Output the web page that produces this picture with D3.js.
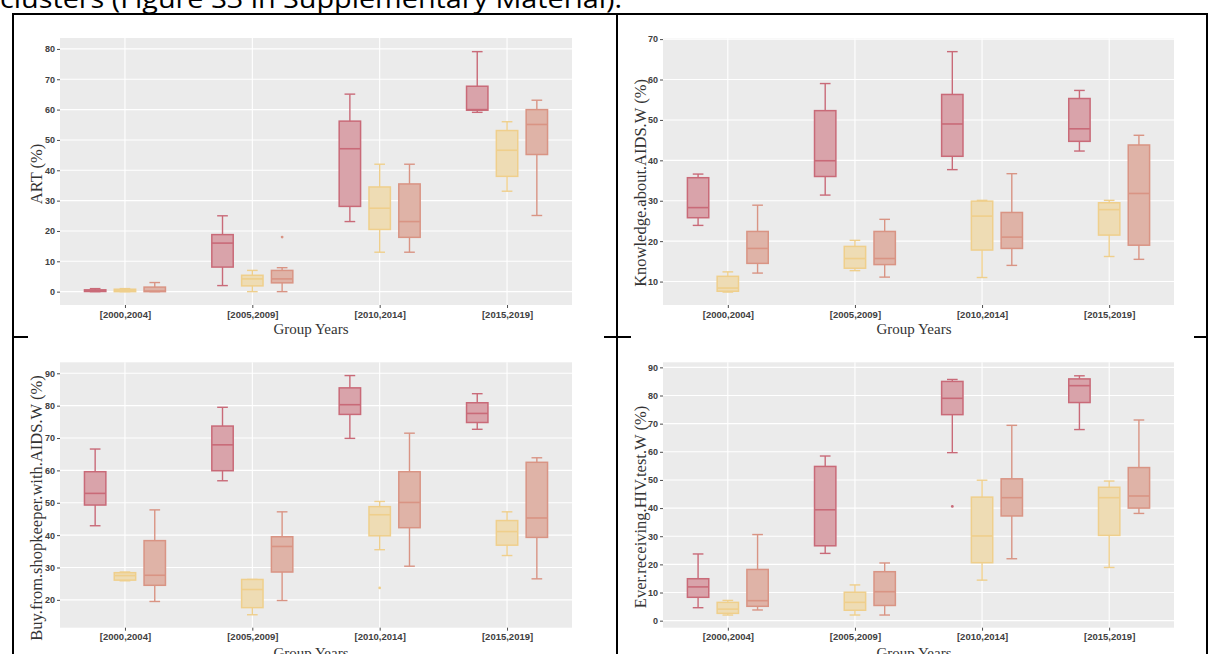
<!DOCTYPE html>
<html>
<head>
<meta charset="utf-8">
<script src="https://cdn.jsdelivr.net/npm/d3@7"></script>
<style>
  html, body { margin: 0; padding: 0; background: #fff; }
  svg { display: block; }
</style>
</head>
<body>
<svg id="chart" width="1208" height="654"></svg>
<script>
// ---------------- DATA ----------------
const categories = ["[2000,2004]", "[2005,2009]", "[2010,2014]", "[2015,2019]"];
const seriesNames = ["Cluster 1", "Cluster 2", "Cluster 3"];
const xTitle = "Group Years";
const caption = "clusters (Figure S3 in Supplementary Material).";

// each entry: [lowWhisker, q1, median, q3, highWhisker] per category, per series
const artS1 = [[0, 0.05, 0.3, 0.6, 1.0], [2.0, 8.1, 16.0, 18.8, 25.0], [23.1, 28.1, 47.1, 56.2, 65.1], [59.1, 59.8, 60.0, 67.7, 79.1]];
const artS2 = [[0, 0, 0.3, 0.8, 1.0], [0, 1.9, 4.2, 5.4, 7.0], [13.0, 20.5, 27.5, 34.5, 42.0], [33.1, 38.0, 46.6, 53.1, 56.0]];
const artS3 = [[0, 0, 0.2, 1.5, 3.0], [0, 2.9, 4.2, 7.0, 7.9], [13.0, 17.9, 23.1, 35.5, 42.0], [25.1, 45.2, 55.1, 60.0, 63.1]];
const artOutliers = [[1, 2, 18.0]]; // [categoryIndex, seriesIndex, value]

const knowS1 = [[23.9, 25.8, 28.3, 35.7, 36.6], [31.4, 36.0, 39.9, 52.3, 59.0], [37.7, 41.0, 49.0, 56.3, 66.9], [42.3, 44.7, 47.8, 55.3, 57.3]];
const knowS2 = [[7.4, 7.6, 8.4, 11.3, 12.4], [12.7, 13.3, 15.7, 18.7, 20.2], [11.0, 17.8, 26.2, 29.9, 30.1], [16.2, 21.5, 27.8, 29.5, 30.1]];
const knowS3 = [[12.1, 14.5, 18.2, 22.4, 28.9], [11.1, 14.2, 15.7, 22.4, 25.4], [14.0, 18.2, 21.0, 27.1, 36.7], [15.5, 19.0, 31.8, 43.8, 46.2]];
const knowOutliers = [];

const buyS1 = [[42.9, 49.3, 52.9, 59.6, 66.6], [56.8, 59.9, 67.9, 73.7, 79.5], [69.9, 77.3, 80.3, 85.5, 89.3], [72.7, 74.8, 77.6, 80.9, 83.7]];
const buyS2 = [[25.9, 26.1, 27.5, 28.4, 28.6], [15.4, 17.6, 23.2, 26.3, 26.3], [35.5, 39.8, 46.3, 48.8, 50.4], [33.7, 36.9, 41.1, 44.5, 47.2]];
const buyS3 = [[19.5, 24.5, 27.6, 38.3, 47.8], [19.8, 28.6, 36.5, 39.5, 47.2], [30.4, 42.3, 50.1, 59.6, 71.5], [26.5, 39.3, 45.3, 62.5, 63.9]];
const buyOutliers = [[2, 1, 23.7]];

const hivS1 = [[4.6, 8.3, 12.0, 14.9, 23.7], [23.9, 26.6, 39.4, 54.8, 58.5], [59.7, 73.2, 79.0, 85.0, 85.7], [67.9, 77.5, 83.5, 85.9, 87.0]];
const hivS2 = [[2.0, 2.6, 4.1, 6.5, 7.2], [2.0, 3.7, 6.5, 10.1, 12.7], [14.4, 20.6, 30.1, 43.9, 49.9], [18.9, 30.3, 43.7, 47.4, 49.6]];
const hivS3 = [[3.8, 5.1, 7.1, 18.2, 30.6], [2.0, 5.4, 10.3, 17.4, 20.5], [22.0, 37.2, 43.7, 50.4, 69.4], [38.1, 40.0, 44.3, 54.4, 71.3]];
const hivOutliers = [[2, 0, 40.6]];

const artTicks = [0, 10, 20, 30, 40, 50, 60, 70, 80];
const knowTicks = [10, 20, 30, 40, 50, 60, 70];
const buyTicks = [20, 30, 40, 50, 60, 70, 80, 90];
const hivTicks = [0, 10, 20, 30, 40, 50, 60, 70, 80, 90];

// ---------------- STYLE ----------------
const fills = ["#d9a3aa", "#eedcb4", "#dfb3a7"];
const strokes = ["#c96a78", "#efcf8c", "#d99484"];

const panels = [
  { label: "ART (%)", series: [artS1, artS2, artS3], outliers: artOutliers, ticks: artTicks,
    domain: [-4.4, 83.6], x0: 60, x1: 572, y0: 38, y1: 305, ylabX: 36, ylabY: 174, titleX: 311, titleY: 334 },
  { label: "Knowledge.about.AIDS.W (%)", series: [knowS1, knowS2, knowS3], outliers: knowOutliers, ticks: knowTicks,
    domain: [4.2, 70.2], x0: 663, x1: 1174, y0: 38.3, y1: 305, ylabX: 640, ylabY: 183, titleX: 914, titleY: 334 },
  { label: "Buy.from.shopkeeper.with.AIDS.W (%)", series: [buyS1, buyS2, buyS3], outliers: buyOutliers, ticks: buyTicks,
    domain: [11.4, 93.4], x0: 60, x1: 572, y0: 362.3, y1: 627.7, ylabX: 36, ylabY: 508, titleX: 311, titleY: 658 },
  { label: "Ever.receiving.HIV.test.W (%)", series: [hivS1, hivS2, hivS3], outliers: hivOutliers, ticks: hivTicks,
    domain: [-2.5, 91.8], x0: 663, x1: 1174, y0: 362.3, y1: 627.7, ylabX: 640, ylabY: 507, titleX: 914, titleY: 658 }
];

const svg = d3.select("#chart");

// caption (cut at top)
svg.append("text")
  .attr("x", 0).attr("y", 7.5)
  .attr("font-family", "Open Sans, Liberation Sans, sans-serif")
  .attr("font-size", 25)
  .attr("textLength", 622)
  .attr("lengthAdjust", "spacingAndGlyphs")
  .attr("fill", "#000")
  .text(caption);

// table borders
const border = svg.append("g").attr("stroke", "#000").attr("stroke-width", 2);
border.append("line").attr("x1", 12).attr("x2", 1208).attr("y1", 14).attr("y2", 14);
border.append("line").attr("x1", 13).attr("x2", 13).attr("y1", 13).attr("y2", 654);
border.append("line").attr("x1", 617).attr("x2", 617).attr("y1", 13).attr("y2", 654);
border.append("line").attr("x1", 1207).attr("x2", 1207).attr("y1", 13).attr("y2", 654);
border.append("line").attr("x1", 12).attr("x2", 28).attr("y1", 337).attr("y2", 337);
border.append("line").attr("x1", 604).attr("x2", 631).attr("y1", 337).attr("y2", 337);
border.append("line").attr("x1", 1194).attr("x2", 1208).attr("y1", 337).attr("y2", 337);

panels.forEach(p => {
  const g = svg.append("g");
  const x = d3.scalePoint().domain(categories).range([p.x0, p.x1]).padding(0.51);
  const y = d3.scaleLinear().domain(p.domain).range([p.y1, p.y0]);
  const step = x.step();
  const off = step * 0.234;
  const bw = step * 0.168;
  const cap = bw * 0.5;

  g.append("rect").attr("x", p.x0).attr("y", p.y0).attr("width", p.x1 - p.x0).attr("height", p.y1 - p.y0)
    .attr("fill", "#ebebeb");

  // grid
  g.selectAll(".hg").data(p.ticks).join("line")
    .attr("x1", p.x0).attr("x2", p.x1)
    .attr("y1", d => y(d)).attr("y2", d => y(d))
    .attr("stroke", "#fff").attr("stroke-width", 1.1);
  g.selectAll(".vg").data(categories).join("line")
    .attr("x1", d => x(d)).attr("x2", d => x(d))
    .attr("y1", p.y0).attr("y2", p.y1)
    .attr("stroke", "#fff").attr("stroke-width", 1.1);

  // axes
  const yAxis = d3.axisLeft(y).tickValues(p.ticks).tickSize(3).tickPadding(2);
  const ya = g.append("g").attr("transform", `translate(${p.x0},0)`).call(yAxis);
  ya.select(".domain").remove();
  ya.selectAll(".tick line").attr("stroke", "#4d4d4d");
  ya.selectAll("text").attr("font-family", "Liberation Sans, Arial, sans-serif")
    .attr("font-weight", "bold").attr("font-size", 9).attr("fill", "#404040");

  const xAxis = d3.axisBottom(x).tickSize(3).tickPadding(3);
  const xa = g.append("g").attr("transform", `translate(0,${p.y1})`).call(xAxis);
  xa.select(".domain").remove();
  xa.selectAll(".tick line").attr("stroke", "#4d4d4d");
  xa.selectAll("text").attr("font-family", "Liberation Sans, Arial, sans-serif")
    .attr("font-weight", "bold").attr("font-size", 9.5).attr("fill", "#404040");

  // titles
  g.append("text").attr("x", p.titleX).attr("y", p.titleY)
    .attr("text-anchor", "middle")
    .attr("font-family", "Liberation Serif, DejaVu Serif, serif")
    .attr("font-size", 15).attr("fill", "#333")
    .text(xTitle);
  g.append("text")
    .attr("transform", `translate(${p.ylabX},${p.ylabY}) rotate(-90)`)
    .attr("text-anchor", "middle").attr("dominant-baseline", "central")
    .attr("font-family", "Liberation Serif, DejaVu Serif, serif")
    .attr("font-size", 16.5).attr("fill", "#333")
    .text(p.label);

  // boxes
  p.series.forEach((stats, si) => {
    const sg = g.append("g");
    const items = stats.map((s, ci) => ({ s, cx: x(categories[ci]) + (si - 1) * off }));
    // whiskers
    sg.selectAll(".wh").data(items).join("line")
      .attr("x1", d => d.cx).attr("x2", d => d.cx)
      .attr("y1", d => y(d.s[0])).attr("y2", d => y(d.s[4]))
      .attr("stroke", strokes[si]).attr("stroke-width", 1.4);
    sg.selectAll(".capl").data(items).join("line")
      .attr("x1", d => d.cx - cap / 2).attr("x2", d => d.cx + cap / 2)
      .attr("y1", d => y(d.s[0])).attr("y2", d => y(d.s[0]))
      .attr("stroke", strokes[si]).attr("stroke-width", 1.4);
    sg.selectAll(".caph").data(items).join("line")
      .attr("x1", d => d.cx - cap / 2).attr("x2", d => d.cx + cap / 2)
      .attr("y1", d => y(d.s[4])).attr("y2", d => y(d.s[4]))
      .attr("stroke", strokes[si]).attr("stroke-width", 1.4);
    sg.selectAll(".bx").data(items).join("rect")
      .attr("x", d => d.cx - bw / 2).attr("width", bw)
      .attr("y", d => y(d.s[3])).attr("height", d => Math.max(1, y(d.s[1]) - y(d.s[3])))
      .attr("fill", fills[si]).attr("stroke", strokes[si]).attr("stroke-width", 1.5);
    sg.selectAll(".md").data(items).join("line")
      .attr("x1", d => d.cx - bw / 2).attr("x2", d => d.cx + bw / 2)
      .attr("y1", d => y(d.s[2])).attr("y2", d => y(d.s[2]))
      .attr("stroke", strokes[si]).attr("stroke-width", 1.6);
  });

  // outliers
  g.selectAll(".out").data(p.outliers).join("circle")
    .attr("cx", d => x(categories[d[0]]) + (d[1] - 1) * off)
    .attr("cy", d => y(d[2]))
    .attr("r", 1.4)
    .attr("fill", d => strokes[d[1]]);
});
</script>
</body>
</html>
